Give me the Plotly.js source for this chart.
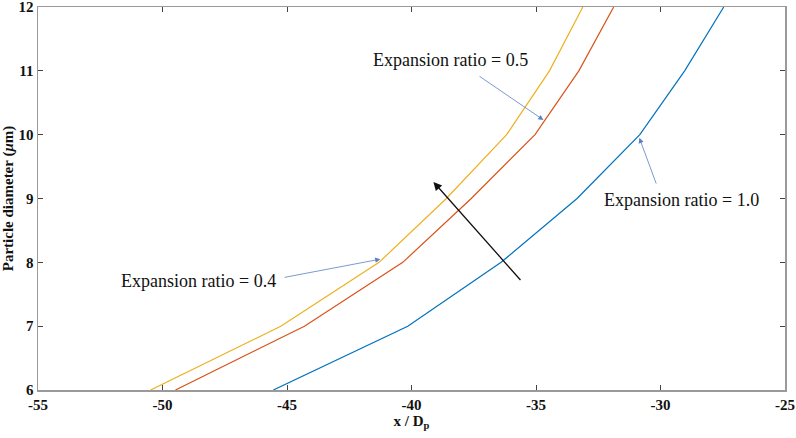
<!DOCTYPE html>
<html>
<head>
<meta charset="utf-8">
<script src="https://cdn.plot.ly/plotly-3.0.1.min.js"></script>
<style>
  html, body { margin: 0; padding: 0; background: #fff; }
  #chart { width: 796px; height: 438px; }
</style>
</head>
<body>
<div id="chart"></div>
<script>
// Particle diameter vs x / Dp for three expansion ratios

const diameters = [6, 7, 8, 9, 10, 11, 12];
const xRatio10 = [-45.55, -40.15, -36.4, -33.35, -30.83, -29.03, -27.46];
const xRatio05 = [-49.48, -44.3, -40.35, -37.6, -35.04, -33.28, -31.88];
const xRatio04 = [-50.48, -45.25, -41.3, -38.6, -36.18, -34.46, -33.12];

const xTicks = [-55, -50, -45, -40, -35, -30, -25];
const yTicks = [6, 7, 8, 9, 10, 11, 12];

const serif = 'Liberation Serif, Times New Roman, serif';
const boxGray = '#9a9a9a';
const arrowBlue = '#5b7fc7';

function curve(xs, color, name) {
  return {
    x: xs,
    y: diameters,
    type: 'scatter',
    mode: 'lines',
    line: { color: color, width: 1.2 },
    name: name,
    hoverinfo: 'x+y'
  };
}

const traces = [
  curve(xRatio10, '#0072BD', 'Expansion ratio = 1.0'),
  curve(xRatio05, '#D95319', 'Expansion ratio = 0.5'),
  curve(xRatio04, '#EDB120', 'Expansion ratio = 0.4')
];

// label text + pointer arrow (tail -> head in data coords)
function label(text, x, y) {
  return {
    x: x, y: y, xref: 'x', yref: 'y',
    text: text, showarrow: false,
    font: { family: serif, size: 18, color: '#111' }
  };
}

function pointer(x0, y0, x1, y1, color, width) {
  return {
    x: x1, y: y1, ax: x0, ay: y0,
    xref: 'x', yref: 'y', axref: 'x', ayref: 'y',
    text: '', showarrow: true,
    arrowhead: 2, arrowsize: 1.3, arrowwidth: width,
    arrowcolor: color, standoff: 0, startstandoff: 0
  };
}

const annotations = [
  label('Expansion ratio = 0.5', -38.45, 11.17),
  pointer(-37.33, 10.93, -34.7, 10.23, arrowBlue, 0.8),
  label('Expansion ratio = 1.0', -29.15, 8.97),
  pointer(-30.15, 9.21, -30.85, 9.95, arrowBlue, 0.8),
  label('Expansion ratio = 0.4', -48.57, 7.7),
  pointer(-45.16, 7.76, -41.25, 8.05, arrowBlue, 0.8),
  pointer(-35.57, 7.7, -39.12, 9.26, '#111', 1.3)
];

const axisBase = {
  showline: true,
  linecolor: boxGray,
  linewidth: 1.5,
  mirror: 'ticks',
  ticks: 'inside',
  ticklen: 5,
  tickcolor: '#444',
  tickwidth: 1,
  showgrid: false,
  zeroline: false,
  ticklabeloverflow: 'allow',
  tickfont: { family: serif, size: 15, color: '#111' }
};

const layout = {
  width: 796,
  height: 438,
  paper_bgcolor: '#fff',
  plot_bgcolor: '#fff',
  showlegend: false,
  margin: { l: 38, r: 11, t: 7, b: 48 },
  xaxis: Object.assign({}, axisBase, {
    range: [-55, -25],
    tickvals: xTicks,
    ticktext: xTicks.map(v => '<b>' + v + '</b>'),
    title: { text: '<b>x / D<sub>p</sub></b>', standoff: 4,
             font: { family: serif, size: 15, color: '#111' } }
  }),
  yaxis: Object.assign({}, axisBase, {
    range: [6, 12],
    tickvals: yTicks,
    ticktext: yTicks.map(v => '<b>' + v + '</b>'),
    title: { text: '<b>Particle diameter (<i>μ</i>m)</b>', standoff: 6,
             font: { family: serif, size: 15, color: '#111' } }
  }),
  annotations: annotations
};

Plotly.newPlot('chart', traces, layout, { displayModeBar: false, staticPlot: true });
</script>
</body>
</html>
